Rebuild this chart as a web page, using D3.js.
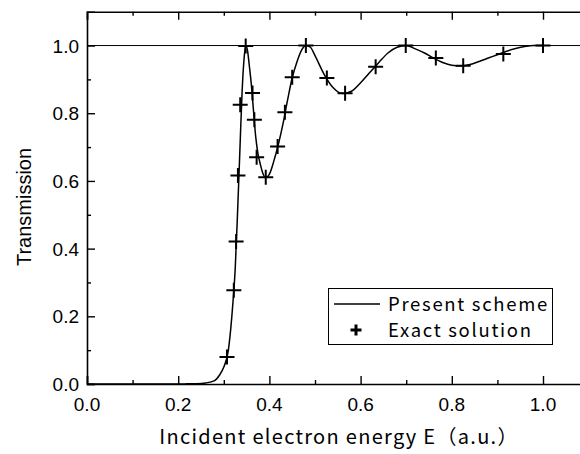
<!DOCTYPE html>
<html>
<head>
<meta charset="utf-8">
<script src="https://cdn.jsdelivr.net/npm/d3@7"></script>
<style>
  body { margin: 0; background: #fff; }
  svg text { fill: #000; }
</style>
</head>
<body>
<div id="chart"></div>
<script>
// present scheme (solid curve)
var curveE = [0, 0.1, 0.2, 0.22, 0.24, 0.26, 0.28, 0.29, 0.30, 0.31, 0.315, 0.32, 0.325, 0.33, 0.335, 0.34, 0.345, 0.348,
  0.352, 0.356, 0.36, 0.365, 0.37, 0.375, 0.38, 0.385, 0.39, 0.395, 0.40, 0.41, 0.42, 0.43, 0.44, 0.45, 0.46, 0.47, 0.48,
  0.49, 0.50, 0.52, 0.54, 0.56, 0.58, 0.60, 0.62, 0.64, 0.66, 0.68, 0.70, 0.72, 0.74, 0.76, 0.78, 0.80, 0.82, 0.84, 0.86,
  0.88, 0.90, 0.92, 0.94, 0.96, 0.98, 1.0];
var curveT = [0, 0, 0, 0.0005, 0.001, 0.003, 0.01, 0.025, 0.05, 0.10, 0.16, 0.24, 0.34, 0.50, 0.68, 0.86, 0.97, 1.0,
  0.985, 0.94, 0.89, 0.81, 0.73, 0.68, 0.65, 0.625, 0.612, 0.612, 0.62, 0.66, 0.71, 0.77, 0.84, 0.905, 0.95, 0.985, 1.0,
  0.995, 0.97, 0.915, 0.875, 0.858, 0.865, 0.89, 0.92, 0.95, 0.978, 0.995, 1.0, 0.99, 0.978, 0.963, 0.95, 0.942, 0.94, 0.944, 0.953,
  0.963, 0.973, 0.983, 0.991, 0.997, 1.0, 1.0];

// exact solution (crosses)
var exactE = [0.307, 0.322, 0.327, 0.331, 0.336, 0.348, 0.363, 0.367, 0.372, 0.392, 0.418, 0.434, 0.450,
  0.480, 0.526, 0.566, 0.633, 0.699, 0.765, 0.825, 0.913, 1.0];
var exactT = [0.080, 0.277, 0.421, 0.616, 0.825, 0.999, 0.860, 0.781, 0.670, 0.611, 0.702, 0.803, 0.906,
  1.0, 0.904, 0.859, 0.937, 1.0, 0.963, 0.940, 0.975, 1.0];

var xTicks = [0, 0.2, 0.4, 0.6, 0.8, 1.0];
var yTicks = [0, 0.2, 0.4, 0.6, 0.8, 1.0];
var minorTicks = [0.1, 0.3, 0.5, 0.7, 0.9];

var W = 580, H = 454;
var mLeft = 87, mTop = 11.7, mBottom = 384;
var x = d3.scaleLinear().domain([0, 1.1]).range([mLeft, mLeft + 456 * 1.1]);
var y = d3.scaleLinear().domain([0, 1.1]).range([mBottom, mTop]);

var svg = d3.select("#chart").append("svg")
  .attr("width", W)
  .attr("height", H);

// horizontal reference at T = 1
svg.append("line")
  .attr("x1", x(0)).attr("x2", x(1.1))
  .attr("y1", y(1)).attr("y2", y(1))
  .attr("stroke", "#000").attr("stroke-width", 1);

// axes (ticks point inward)
var fmt = d3.format(".1f");
var tickFont = "Liberation Sans, Arial, sans-serif";
var jpFont = "Noto Sans CJK JP, sans-serif";

var xb = svg.append("g").attr("transform", "translate(0," + mBottom + ")")
  .call(d3.axisTop(x).tickValues(xTicks).tickSize(8).tickFormat(""));
xb.append("g").call(d3.axisTop(x).tickValues(minorTicks).tickSize(4).tickFormat(""));
var xt = svg.append("g").attr("transform", "translate(0," + mTop + ")")
  .call(d3.axisBottom(x).tickValues(xTicks).tickSize(8).tickFormat(""));
xt.append("g").call(d3.axisBottom(x).tickValues(minorTicks).tickSize(4).tickFormat(""));
var yl = svg.append("g").attr("transform", "translate(" + mLeft + ",0)")
  .call(d3.axisRight(y).tickValues(yTicks).tickSize(8).tickFormat(""));
yl.append("g").call(d3.axisRight(y).tickValues(minorTicks).tickSize(4).tickFormat(""));

svg.selectAll("g g .domain").remove();
svg.selectAll(".domain").attr("stroke", "#000").attr("stroke-width", 1.6);
svg.selectAll(".tick line").attr("stroke", "#000").attr("stroke-width", 1.4);

// tick labels
svg.selectAll(".xlab").data(xTicks).enter().append("text")
  .attr("x", function(d) { return x(d); })
  .attr("y", 411)
  .attr("text-anchor", "middle")
  .attr("font-family", tickFont)
  .attr("font-size", "19px")
  .text(function(d) { return fmt(d); });
svg.selectAll(".ylab").data(yTicks).enter().append("text")
  .attr("x", 79)
  .attr("y", function(d) { return y(d) + 7; })
  .attr("text-anchor", "end")
  .attr("font-family", tickFont)
  .attr("font-size", "19px")
  .text(function(d) { return fmt(d); });

// axis titles
svg.append("text")
  .attr("transform", "translate(31,207) rotate(-90)")
  .attr("text-anchor", "middle")
  .attr("font-family", tickFont)
  .attr("font-size", "20px")
  .text("Transmission");
svg.append("text")
  .attr("x", 339).attr("y", 444)
  .attr("text-anchor", "middle")
  .attr("font-family", jpFont)
  .attr("font-size", "20px")
  .attr("letter-spacing", "1.3px")
  .text("Incident electron energy E（a.u.）");

// curve
var line = d3.line()
  .x(function(d, i) { return x(curveE[i]); })
  .y(function(d, i) { return y(curveT[i]); })
  .curve(d3.curveMonotoneX);
svg.append("path")
  .datum(curveE)
  .attr("d", line)
  .attr("fill", "none")
  .attr("stroke", "#000")
  .attr("stroke-width", 1.5);

// crosses
function plus(g, cx, cy, s, sw) {
  g.append("path")
    .attr("d", "M" + (cx - s) + "," + cy + "H" + (cx + s) + "M" + cx + "," + (cy - s) + "V" + (cy + s))
    .attr("stroke", "#000").attr("stroke-width", sw).attr("fill", "none");
}
var marks = svg.append("g");
exactE.forEach(function(e, i) { plus(marks, x(e), y(exactT[i]), 7.5, 2); });

// legend
var lg = svg.append("g");
lg.append("rect")
  .attr("x", 328.5).attr("y", 288.5).attr("width", 224).attr("height", 56)
  .attr("fill", "#fff").attr("stroke", "#000").attr("stroke-width", 1);
lg.append("line")
  .attr("x1", 334).attr("x2", 380).attr("y1", 304).attr("y2", 304)
  .attr("stroke", "#000").attr("stroke-width", 1.5);
plus(lg, 356, 330, 5.5, 3);
lg.append("text").attr("x", 388).attr("y", 311)
  .attr("font-family", jpFont).attr("font-size", "18.5px").attr("letter-spacing", "1.7px")
  .text("Present scheme");
lg.append("text").attr("x", 388).attr("y", 337)
  .attr("font-family", jpFont).attr("font-size", "18.5px").attr("letter-spacing", "1.7px")
  .text("Exact solution");
</script>
</body>
</html>
